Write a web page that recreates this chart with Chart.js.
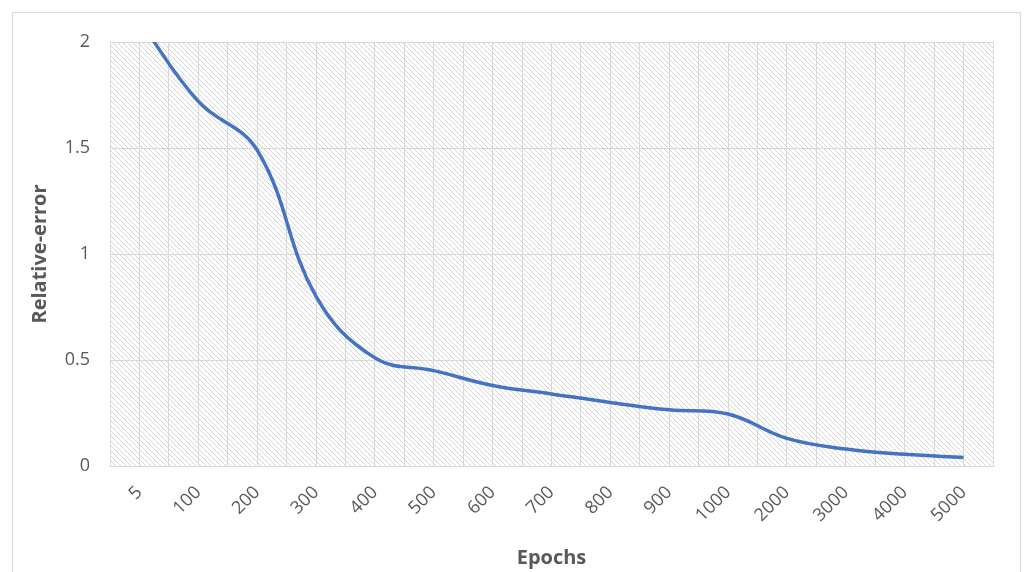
<!DOCTYPE html>
<html>
<head>
<meta charset="utf-8">
<script src="https://cdn.jsdelivr.net/npm/chart.js@4"></script>
<style>
  html, body { margin: 0; padding: 0; background: #fff; }
  #wrap { position: relative; width: 1026px; height: 572px; overflow: hidden; }
  #frame { position: absolute; left: 12px; top: 12px; width: 1007px; height: 620px; border: 1px solid #d9d9d9; }
  #myChart { position: absolute; left: 0; top: 0; }
</style>
</head>
<body>
<div id="wrap">
  <div id="frame"></div>
  <canvas id="myChart" width="1026" height="572"></canvas>
</div>
<script>
// data
const epochs = ["5", "100", "200", "300", "400", "500", "600", "700", "800", "900", "1000", "2000", "3000", "4000", "5000"];
const relError = [2.1, 1.72, 1.49, 0.8, 0.51, 0.45, 0.38, 0.34, 0.30, 0.265, 0.245, 0.13, 0.08, 0.055, 0.04];
const yTicks = [0, 0.5, 1, 1.5, 2];

const textColor = "#595959";
const fontName = "'Open Sans', 'Noto Sans', sans-serif";

// light downward-diagonal hatch like the excel plot area fill
function hatch()
{
    const c = document.createElement("canvas");
    c.width = 5; c.height = 5;
    const g = c.getContext("2d");
    g.fillStyle = "#ffffff";
    g.fillRect(0, 0, 5, 5);
    g.fillStyle = "#d6d6d6";
    for (let i = 0; i < 5; i++) g.fillRect(i, i, 1, 1);
    return g.createPattern(c, "repeat");
}

const plotFill = {
    id: "plotFill",
    beforeDraw(chart) {
        const a = chart.chartArea;
        const ctx = chart.ctx;
        ctx.save();
        ctx.fillStyle = hatch();
        ctx.fillRect(a.left, a.top, a.right - a.left, a.bottom - a.top);
        ctx.restore();
    }
};

new Chart("myChart",
{
    type: "line",
    data: {
        datasets: [{
            data: relError.map((v, i) => ({x: i, y: v})),
            borderColor: "#4472C4",
            borderWidth: 3.5,
            pointRadius: 0,
            tension: 0.4,
            fill: false
        }]
    },
    options: {
        responsive: false,
        animation: false,
        layout: {padding: {left: 28, top: 42, right: 33, bottom: 0}},
        plugins: {legend: {display: false}, tooltip: {enabled: false}},
        scales: {
            x: {
                type: "linear",
                min: -0.5,
                max: epochs.length - 0.5,
                afterFit: s => { s.height = 106; },
                afterBuildTicks: s => {
                    const t = [];
                    for (let i = 0; i <= epochs.length * 2; i++) t.push({value: -0.5 + i / 2});
                    s.ticks = t;
                },
                ticks: {
                    autoSkip: false,
                    minRotation: 45,
                    maxRotation: 45,
                    padding: 16,
                    color: textColor,
                    font: {family: fontName, size: 18},
                    callback: v => Number.isInteger(v) ? epochs[v] : ""
                },
                grid: {color: "#d9d9d9", lineWidth: 1, drawTicks: false},
                border: {color: "#d9d9d9"},
                title: {display: true, text: "Epochs", color: textColor, padding: {top: 0, bottom: 2},
                        font: {family: fontName, size: 20, weight: "bold"}}
            },
            y: {
                min: 0,
                max: 2,
                afterFit: s => { s.width = 82; },
                afterBuildTicks: s => { s.ticks = yTicks.map(v => ({value: v})); },
                ticks: {
                    padding: 20,
                    color: textColor,
                    font: {family: fontName, size: 18},
                    callback: v => String(v)
                },
                grid: {color: "#d9d9d9", lineWidth: 1, drawTicks: false},
                border: {display: false},
                title: {display: true, text: "Relative-error", color: textColor, padding: 0,
                        font: {family: fontName, size: 20, weight: "bold"}}
            }
        }
    },
    plugins: [plotFill]
});
</script>
</body>
</html>
